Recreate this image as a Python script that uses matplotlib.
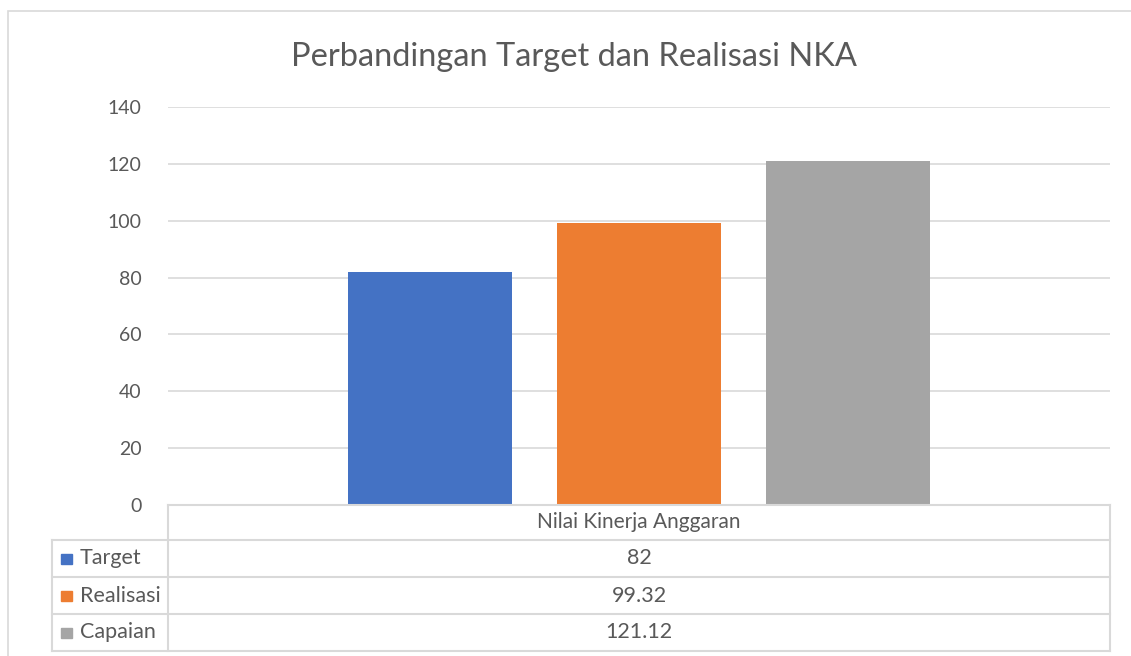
import matplotlib
matplotlib.use("Agg")
import matplotlib.pyplot as plt
from matplotlib.lines import Line2D
from matplotlib.patches import Rectangle

plt.rcParams['font.family'] = ['Lato', 'DejaVu Sans']

title = "Perbandingan Target dan Realisasi NKA"
category = "Nilai Kinerja Anggaran"
series = ["Target", "Realisasi", "Capaian"]
values = [82, 99.32, 121.12]
value_labels = ["82", "99.32", "121.12"]
colors = ["#4472C4", "#ED7D31", "#A5A5A5"]
yticks = [0, 20, 40, 60, 80, 100, 120, 140]

W, H = 1131, 656
fig = plt.figure(figsize=(W / 100, H / 100), dpi=100)
txt = "#595959"
grid = "#D9D9D9"

def fx(px):
    return px / W

def fy(py):
    return 1 - py / H

# chart frame
fig.add_artist(Rectangle((fx(8), fy(700)), fx(1200), fy(11) - fy(700),
                         transform=fig.transFigure, fill=False,
                         edgecolor=grid, lw=1.2))

ax = fig.add_axes([fx(168), fy(505), fx(1110) - fx(168), fy(107) - fy(505)])
ax.bar(range(len(values)), values, width=0.783, color=colors, zorder=3)
ax.set_ylim(0, 140)
ax.set_xlim(1 - 2.25, 1 + 2.25)
ax.set_yticks(yticks)
ax.set_yticklabels([str(t) for t in yticks], fontsize=14, color=txt)
ax.tick_params(axis='y', length=0, pad=19)
ax.set_xticks([])
for s in ax.spines.values():
    s.set_visible(False)
ax.yaxis.grid(True, color=grid, lw=1.2, zorder=0)

fig.text(fx(574), fy(57), title, ha='center', va='center', fontsize=23.5, color=txt)

# data table
rows_y = [505, 540, 577, 614, 651]
tl = dict(color=grid, lw=1.5, transform=fig.transFigure)
fig.add_artist(Line2D([fx(168), fx(1110)], [fy(505)] * 2, **tl))
for y in rows_y[1:]:
    fig.add_artist(Line2D([fx(52), fx(1110)], [fy(y)] * 2, **tl))
fig.add_artist(Line2D([fx(168), fx(168)], [fy(505), fy(651)], **tl))
fig.add_artist(Line2D([fx(1110), fx(1110)], [fy(505), fy(651)], **tl))
fig.add_artist(Line2D([fx(52), fx(52)], [fy(540), fy(651)], **tl))

cx = fx(639)
fig.text(cx, fy(522), category, ha='center', va='center', fontsize=15, color=txt)
for i, (name, lab, c) in enumerate(zip(series, value_labels, colors)):
    ymid = (rows_y[i + 1] + rows_y[i + 2]) / 2
    fig.add_artist(Rectangle((fx(61), fy(ymid + 5)), fx(11), fy(ymid - 5) - fy(ymid + 5),
                             transform=fig.transFigure, color=c))
    fig.text(fx(80), fy(ymid), name, ha='left', va='center', fontsize=15.5, color=txt)
    fig.text(cx, fy(ymid), lab, ha='center', va='center', fontsize=15.5, color=txt)

fig.savefig("out.png", dpi=100, facecolor="white")
